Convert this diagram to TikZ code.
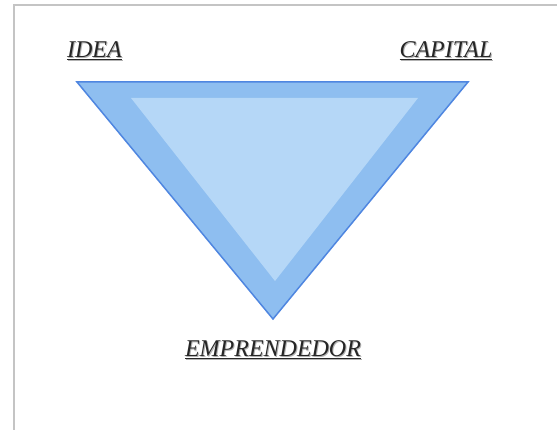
\documentclass[tikz,border=0pt]{standalone}
\usepackage{fontspec}
\setmainfont{Liberation Serif}
\definecolor{outerfill}{HTML}{8EBEF0}
\definecolor{outeredge}{HTML}{4F86E0}
\definecolor{innerfill}{HTML}{B5D7F7}
\definecolor{framegray}{HTML}{C4C4C4}
\begin{document}
\begin{tikzpicture}[x=1pt,y=-1pt,
  lbl/.style={font=\fontsize{24}{27}\selectfont\itshape, text=black!85, inner sep=0pt},
  shadowlbl/.style={font=\fontsize{24}{27}\selectfont\itshape, text=black!30, inner sep=0pt}]
\useasboundingbox[fill=white] (0,0) rectangle (557,430);
\draw[framegray, line width=2pt] (13.5,430) -- (13.5,5.5) -- (557,5.5);
% outer triangle
\coordinate (o1) at (77,82);
\coordinate (o2) at (468,82);
\coordinate (o3) at (273,319);
\fill[outerfill] (o1) -- (o2) -- (o3) -- cycle;
\draw[outeredge, line width=1.5pt, line join=miter] (o1) -- (o2) -- (o3) -- cycle;
% inner triangle
\coordinate (i1) at (131,98);
\coordinate (i2) at (418,98);
\coordinate (i3) at (275,281);
\fill[innerfill] (i1) -- (i2) -- (i3) -- cycle;
% labels
\node[shadowlbl] at (95.5,52) {\underline{IDEA}};
\node[lbl] (idea) at (94.5,51) {\underline{IDEA}};
\node[shadowlbl] at (447,52) {\underline{CAPITAL}};
\node[lbl] (capital) at (446,51) {\underline{CAPITAL}};
\node[shadowlbl] at (274,351) {\underline{EMPRENDEDOR}};
\node[lbl] (empr) at (273,350) {\underline{EMPRENDEDOR}};
\end{tikzpicture}
\end{document}
